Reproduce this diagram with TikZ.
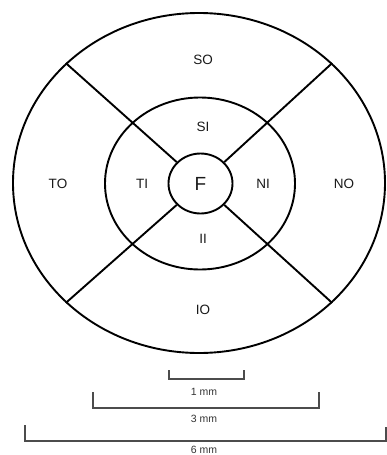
\documentclass[tikz,border=0pt]{standalone}
\usepackage{fontspec}
\setmainfont{Liberation Sans}
\usetikzlibrary{shapes.geometric}
\begin{document}
\begin{tikzpicture}[x=1pt,y=-1pt,
  ring/.style={draw=black, line width=1.9pt, ellipse, inner sep=0pt},
  sector/.style={draw=black, line width=1.9pt},
  lab/.style={text=black!90, font=\fontsize{13.5}{15}\selectfont, inner sep=0pt},
  bar/.style={draw=black!70, line width=1.2pt},
  barlab/.style={text=black!80, font=\fontsize{10.5}{12}\selectfont, inner sep=0pt}]
\useasboundingbox (0,0) rectangle (387,455);
% rings
\node[ring, minimum width=372pt, minimum height=340pt] (outer) at (199,183) {};
\node[ring, minimum width=190pt, minimum height=172pt] (mid) at (200,183.5) {};
\node[ring, minimum width=64pt, minimum height=60pt, font=\fontsize{19}{21}\selectfont, text=black!90] (F) at (200.5,183.5) {F};
% sector lines
\foreach \a in {42,138,222,318}{
  \draw[sector] (F.\a) -- (outer.\a);
}
% labels
\node[lab] (SO) at (203,60) {SO};
\node[lab] (SI) at (203,127) {SI};
\node[lab] (TO) at (58,184) {TO};
\node[lab] (TI) at (142,184) {TI};
\node[lab] (NI) at (263,184) {NI};
\node[lab] (NO) at (344,184) {NO};
\node[lab] (II) at (203,239) {II};
\node[lab] (IO) at (203,310) {IO};
% scale bars
\draw[bar] (169,370) -- (169,379) -- (244,379) -- (244,370);
\node[barlab] (m1) at (204,392) {1 mm};
\draw[bar] (93,392) -- (93,408) -- (319,408) -- (319,392);
\node[barlab] (m3) at (204,419) {3 mm};
\draw[bar] (25,425) -- (25,441) -- (386,441) -- (386,427);
\node[barlab] (m6) at (204,449.5) {6 mm};
\end{tikzpicture}
\end{document}
